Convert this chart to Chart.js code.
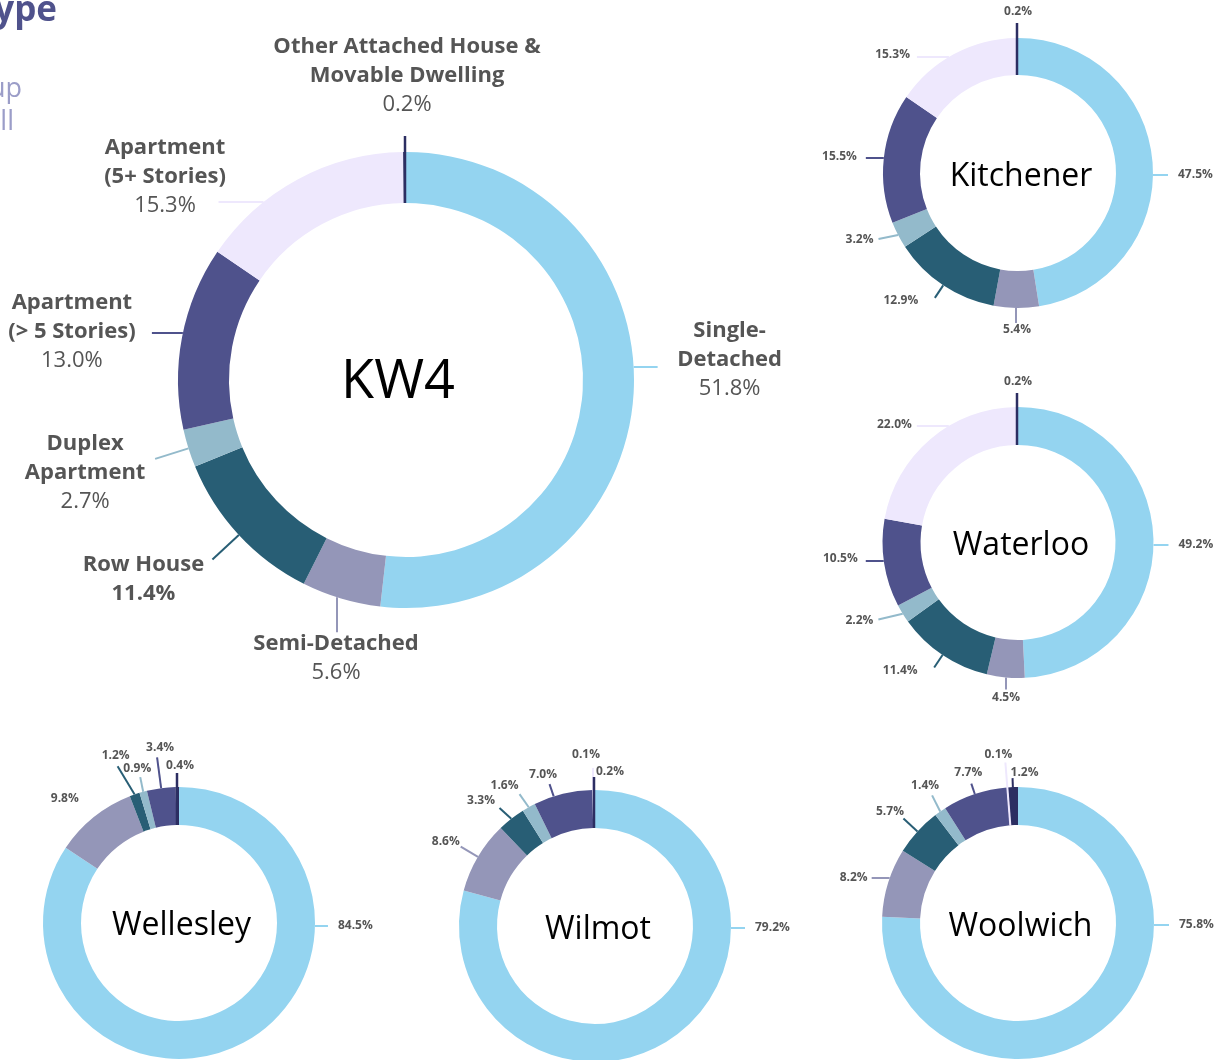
<!DOCTYPE html>
<html>
<head>
<meta charset="utf-8">
<script src="https://cdn.jsdelivr.net/npm/chart.js@4.4.0/dist/chart.umd.min.js"></script>
<style>
html,body{margin:0;padding:0;background:#fff;}
#wrap{position:relative;width:1228px;height:1060px;overflow:hidden;}
#wrap canvas{position:absolute;left:0;top:0;}
</style>
</head>
<body>
<div id="wrap">
<canvas id="hdr" width="1228" height="200"></canvas>
<canvas id="c0" width="1228" height="1120"></canvas>
<canvas id="c1" width="1228" height="1120"></canvas>
<canvas id="c2" width="1228" height="1120"></canvas>
<canvas id="c3" width="1228" height="1120"></canvas>
<canvas id="c4" width="1228" height="1120"></canvas>
<canvas id="c5" width="1228" height="1120"></canvas>
</div>
<script>
// ---------------- DATA ----------------
const categories = ['Single-Detached','Semi-Detached','Row House','Duplex Apartment',
  'Apartment (> 5 Stories)','Apartment (5+ Stories)','Other Attached House & Movable Dwelling'];
const kw4LabelLines = [['Single-','Detached'],['Semi-Detached'],['Row House'],['Duplex','Apartment'],
  ['Apartment','(> 5 Stories)'],['Apartment','(5+ Stories)'],['Other Attached House &','Movable Dwelling']];
const regionNames = ['KW4','Kitchener','Waterloo','Wellesley','Wilmot','Woolwich'];
const kw4Values       = [51.8, 5.6, 11.4, 2.7, 13.0, 15.3, 0.2];
const kitchenerValues = [47.5, 5.4, 12.9, 3.2, 15.5, 15.3, 0.2];
const waterlooValues  = [49.2, 4.5, 11.4, 2.2, 10.5, 22.0, 0.2];
const wellesleyValues = [84.5, 9.8, 1.2, 0.9, 3.4, 0, 0.4];
const wilmotValues    = [79.2, 8.6, 3.3, 1.6, 7.0, 0.1, 0.2];
const woolwichValues  = [75.8, 8.2, 5.7, 1.4, 7.7, 0.1, 1.2];
const headerFragments = ['ype', 'up', 'll'];

// ---------------- STYLE ----------------
const sliceColors = ['#94D4F0','#9496B8','#285E75','#93BACB','#4F528C','#EEE8FD','#2C2E62'];
const FONT = '"Open Sans", "Liberation Sans", sans-serif';
const W = 1228, H = 1120;

// ---------------- HEADER ----------------
(function(){
  const c = document.getElementById('hdr').getContext('2d');
  c.textAlign = 'right'; c.textBaseline = 'alphabetic';
  c.fillStyle = '#4F528C'; c.font = 'bold 35px ' + FONT;
  c.fillText(headerFragments[0], 57, 21);
  c.fillStyle = '#9B9DC8'; c.font = '27px ' + FONT;
  c.fillText(headerFragments[1], 22, 97);
  c.fillText(headerFragments[2], 14, 130);
})();

// ---------------- CALLOUT PLUGIN ----------------
const calloutPlugin = {
  id: 'callout',
  afterDatasetsDraw(chart, args, o) {
    const ctx = chart.ctx;
    const meta = chart.getDatasetMeta(0);
    const ds = chart.data.datasets[0];
    ctx.save();
    const a0 = meta.data[0];
    ctx.font = o.titleFont; ctx.fillStyle = '#000';
    ctx.textAlign = 'center'; ctx.textBaseline = 'alphabetic';
    ctx.fillText(o.title, a0.x + o.titleDx, a0.y + o.titleDy);
    o.specs.forEach((s, i) => {
      if (!s || !(ds.data[i] > 0)) return;
      const p = meta.data[i].getProps(['x','y','startAngle','endAngle','innerRadius','outerRadius'], true);
      const R = p.outerRadius, r = p.innerRadius;
      const a = (p.startAngle + p.endAngle) / 2 + (s.aa || 0) * Math.PI / 180;
      let p0, p1;
      if (s.t === 'h') {
        const yl = p.y + s.d;
        const sd = Math.cos(a) >= 0 ? 1 : -1;
        const x0 = p.x + sd * Math.sqrt(Math.max(R*R - s.d*s.d, 0));
        p0 = [x0, yl]; p1 = [x0 + sd * s.len, yl];
      } else if (s.t === 'v') {
        const xl = p.x + s.d;
        const sd = Math.sin(a) >= 0 ? 1 : -1;
        const rr = s.thr ? r : R;
        const y0 = p.y + sd * Math.sqrt(Math.max(rr*rr - s.d*s.d, 0));
        const yR = p.y + sd * Math.sqrt(Math.max(R*R - s.d*s.d, 0));
        p0 = [xl, y0]; p1 = [xl, yR + sd * s.len];
      } else {
        const r0 = s.thr ? r : R;
        p0 = [p.x + r0 * Math.cos(a), p.y + r0 * Math.sin(a)];
        const q = [p.x + R * Math.cos(a), p.y + R * Math.sin(a)];
        const b = a + (s.da || 0) * Math.PI / 180;
        p1 = [q[0] + s.len * Math.cos(b), q[1] + s.len * Math.sin(b)];
      }
      if (s.len > 0) {
        ctx.strokeStyle = ds.backgroundColor[i];
        ctx.lineWidth = s.lw || o.lw;
        ctx.lineCap = 'butt';
        ctx.beginPath(); ctx.moveTo(p0[0], p0[1]); ctx.lineTo(p1[0], p1[1]); ctx.stroke();
      }
      const lines = o.text(i, ds.data[i]);
      const tx = p1[0] + s.tx, ty = p1[1] + s.ty;
      const n = lines.length;
      ctx.fillStyle = o.textColor;
      ctx.textAlign = s.al || 'center';
      ctx.textBaseline = 'middle';
      lines.forEach((ln, k) => {
        ctx.font = ln.f;
        ctx.fillText(ln.t, tx, ty + (k - (n - 1) / 2) * o.lh);
      });
    });
    ctx.restore();
  }
};

const pct = v => v.toFixed(1) + '%';
const bigBold = 'bold 22px ' + FONT, bigReg = '22px ' + FONT, smallBold = 'bold 12px ' + FONT;
const bigText = (i, v) => kw4LabelLines[i].map(t => ({t, f: bigBold}))
  .concat([{t: pct(v), f: i === 2 ? bigBold : bigReg}]);
const smallText = (i, v) => [{t: pct(v), f: smallBold}];

// ---------------- LAYOUT (positions / label placement) ----------------
const layouts = [
  { cx: 406, cy: 380, R: 228, r: 177, titleFont: '54px ' + FONT, titleDx: -8, titleDy: 18, lh: 29, lw: 2, text: bigText,
    specs: [
      {t:'h', d:-13, len:24, tx:72, ty:-7},
      {t:'v', d:-69, len:35, tx:-1, ty:25.5},
      {t:'r', len:36, tx:-69, ty:19.5},
      {t:'r', len:35, tx:-70, ty:14},
      {t:'h', d:-47, len:31, tx:-80, ty:-1},
      {t:'h', d:-178, len:45, tx:-53.5, ty:-25},
      {t:'v', d:-1, thr:1, len:16, tx:2, ty:-60, lw:2.5}
    ]},
  { cx: 1018, cy: 173, R: 135, r: 98, titleFont: '32px ' + FONT, titleDx: 3, titleDy: 12.6, lh: 14, lw: 2, text: smallText,
    specs: [
      {t:'h', d:2, len:15, tx:10, ty:0, al:'left'},
      {t:'v', d:-2, len:15, tx:1, ty:7},
      {t:'r', len:15, tx:-34, ty:3},
      {t:'r', da:16, len:20, tx:-5, ty:1, al:'right'},
      {t:'h', d:-15, len:18, tx:-9, ty:-1, al:'right'},
      {t:'h', d:-116, len:32, tx:-7, ty:-2, al:'right'},
      {t:'v', d:-1, thr:1, len:15, tx:1, ty:-11, lw:2.5}
    ]},
  { cx: 1018, cy: 542.5, R: 135.5, r: 97.5, titleFont: '32px ' + FONT, titleDx: 3, titleDy: 12, lh: 14, lw: 2, text: smallText,
    specs: [
      {t:'h', d:2.5, len:15, tx:10, ty:0, al:'left'},
      {t:'v', d:-12, len:12, tx:0, ty:8.5},
      {t:'r', len:15, tx:-34, ty:3.5},
      {t:'r', da:18, len:25, tx:-5, ty:1.5, al:'right'},
      {t:'h', d:18.5, len:18, tx:-8, ty:-2, al:'right'},
      {t:'h', d:-116.5, len:32, tx:-5, ty:-1, al:'right'},
      {t:'v', d:-1, thr:1, len:14, tx:1, ty:-11, lw:2.5}
    ]},
  { cx: 179, cy: 923, R: 136, r: 98, titleFont: '32px ' + FONT, titleDx: 2.5, titleDy: 12, lh: 14, lw: 2, text: smallText,
    specs: [
      {t:'h', d:3, len:13, tx:10, ty:0, al:'left'},
      {t:'r', len:0, tx:-29, ty:-18},
      {t:'r', da:-12, len:33, tx:-2, ty:-11},
      {t:'r', da:4, len:15, tx:-3, ty:-9},
      {t:'r', len:31, tx:3, ty:-9.5},
      null,
      {t:'v', d:-2, thr:1, len:14, tx:3, ty:-7, lw:2.5}
    ]},
  { cx: 595, cy: 926, R: 136, r: 98, titleFont: '32px ' + FONT, titleDx: 3, titleDy: 13, lh: 14, lw: 2, text: smallText,
    specs: [
      {t:'h', d:2, len:14, tx:10, ty:0, al:'left'},
      {t:'r', len:20, tx:-1, ty:-5, al:'right'},
      {t:'r', da:-9.5, len:16, tx:-4.5, ty:-7, al:'right'},
      {t:'r', da:-6, len:16, tx:-1, ty:-9, al:'right'},
      {t:'r', aa:-4, da:-1, len:13, tx:-6.5, ty:-10},
      {t:'v', d:-2, len:22, tx:-7, ty:-13},
      {t:'v', d:-1, thr:1, len:13, tx:2, ty:-5, al:'left', lw:2.5}
    ]},
  { cx: 1018, cy: 923, R: 136, r: 98, titleFont: '32px ' + FONT, titleDx: 2.5, titleDy: 13, lh: 14, lw: 2, text: smallText,
    specs: [
      {t:'h', d:2, len:15, tx:10, ty:0, al:'left'},
      {t:'h', d:-45, len:18, tx:-4, ty:0, al:'right'},
      {t:'r', len:19, tx:0.5, ty:-7, al:'right'},
      {t:'r', da:8, len:18, tx:-7, ty:-10},
      {t:'r', len:11, tx:-3, ty:-11.5},
      {t:'r', thr:1, len:25, tx:-7, ty:-7.5},
      {t:'r', len:9, tx:-2, ty:-6, al:'left'}
    ]}
];

const seriesList = [kw4Values, kitchenerValues, waterlooValues, wellesleyValues, wilmotValues, woolwichValues];

seriesList.forEach((vals, k) => {
  const L = layouts[k];
  new Chart(document.getElementById('c' + k), {
    type: 'doughnut',
    data: {
      labels: categories,
      datasets: [{
        data: vals,
        backgroundColor: sliceColors,
        borderWidth: 0,
        hoverBorderWidth: 0,
        hoverOffset: 0,
        offset: 0
      }]
    },
    options: {
      responsive: false,
      animation: false,
      events: [],
      cutout: L.r,
      layout: { padding: { left: L.cx - L.R, top: L.cy - L.R, right: W - (L.cx + L.R), bottom: H - (L.cy + L.R) } },
      plugins: {
        legend: { display: false },
        tooltip: { enabled: false },
        callout: {
          title: regionNames[k], titleFont: L.titleFont, titleDx: L.titleDx, titleDy: L.titleDy,
          specs: L.specs, text: L.text, lh: L.lh, lw: L.lw, textColor: '#555555'
        }
      }
    },
    plugins: [calloutPlugin]
  });
});
</script>
</body>
</html>
